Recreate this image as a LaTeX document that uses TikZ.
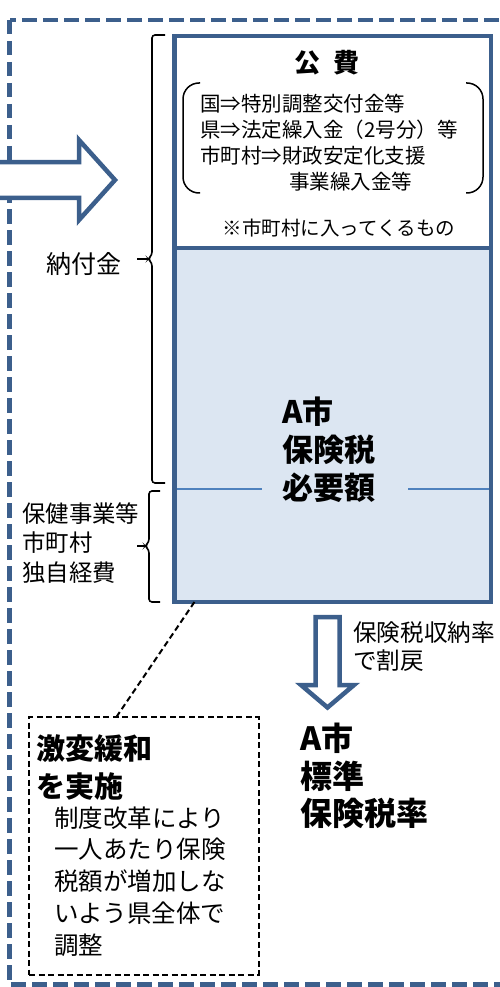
\documentclass[tikz,border=0pt]{standalone}
\usepackage{fontspec}
\setmainfont{Noto Sans CJK JP}
\usetikzlibrary{positioning}
\definecolor{wakuao}{HTML}{3C5F8C}
\definecolor{usuao}{HTML}{DCE6F2}
\definecolor{senao}{HTML}{4F81BD}

\begin{document}
\begin{tikzpicture}[x=1pt, y=-1pt,
  waku/.style={draw=wakuao, line width=4.5pt, dash pattern=on 14.5pt off 6.5pt},
  kyaku/.style={draw=wakuao, line width=4.5pt, minimum width=316.5pt, inner sep=0pt, outer sep=0pt, anchor=north west},
  yajirushi/.style={draw=wakuao, line width=4.5pt, fill=white, line join=miter},
  chukakko/.style={line width=1.6pt, rounded corners=3pt},
  marukakko/.style={line width=1.5pt, rounded corners=16pt},
  tensen/.style={line width=2pt, dash pattern=on 6pt off 3.5pt},
  bun/.style={inner sep=0pt, align=left}]

  \useasboundingbox (0,0) rectangle (499,987);

  % Outer frame
  \draw[waku] (9.5,20) rectangle (560,984.5);

  % Arrow from the left
  \draw[yajirushi] (-10,162.25) -- (79,162.25) -- (79,140) -- (115,180) -- (79,220)
    -- (79,197.75) -- (-10,197.75) -- cycle;

  % Main box
  \node[kyaku, minimum height=212pt] (kouhi) at (174.5,36) {};
  \node[kyaku, fill=usuao, minimum height=354pt] (hitsuyou) at (174.5,248) {};

  \coordinate (senA) at (176.75,489);
  \coordinate (senB) at (262,489);
  \coordinate (senC) at (408,489);
  \coordinate (senD) at (488.75,489);
  \draw[senao, line width=1.5pt] (senA) -- (senB);
  \draw[senao, line width=1.5pt] (senC) -- (senD);

  % Upper part (base = last line)
  \node[bun, anchor=base, font=\bfseries\fontsize{26}{30}\selectfont] (koutitle) at (327,72.5) {公\hspace{14pt}費};
  \draw[marukakko] (200,83) -- (183,83) -- (183,193) -- (200,193);
  \draw[marukakko] (466,83) -- (483,83) -- (483,193) -- (466,193);
  \node[bun, anchor=base west, font=\fontsize{20.5}{26}\selectfont] (uchiwake) at (200,189.5)
    {国⇒特別調整交付金等\\県⇒法定繰入金（2号分）等\\市町村⇒財政安定化支援\\\hspace*{89pt}事業繰入金等};
  \node[bun, anchor=base, font=\fontsize{19.5}{24}\selectfont] (chuui) at (339,235.5) {※市町村に入ってくるもの};

  % Lower part
  \node[bun, anchor=base west, font=\bfseries\fontsize{31}{37.7}\selectfont] (hitsuyoutxt) at (282,499.2)
    {A市\\保険税\\必要額};

  % Braces on the left
  \draw[chukakko] (165,35) -- (152,35) -- (152,255) -- (148,259) -- (152,263) -- (152,483) -- (165,483);
  \draw[chukakko] (137,259) -- (148,259);
  \node[bun, anchor=base, font=\fontsize{25}{30}\selectfont] (nofu) at (84,273) {納付金};

  \draw[chukakko] (160,491) -- (149,491) -- (149,542) -- (145,546) -- (149,550) -- (149,602) -- (160,602);
  \draw[chukakko] (137,546) -- (145,546);
  \node[bun, anchor=base west, font=\fontsize{23.4}{29.5}\selectfont] (hoken) at (22,581)
    {保健事業等\\市町村\\独自経費};

  % Arrow down
  \draw[yajirushi] (315.5,617) -- (339.5,617) -- (339.5,685) -- (354,685) -- (327.5,707.5)
    -- (301,685) -- (315.5,685) -- cycle;
  \node[bun, anchor=base west, font=\fontsize{23.6}{28}\selectfont] (warimodoshi) at (353,669)
    {保険税収納率\\で割戻};
  \node[bun, anchor=base west, font=\bfseries\fontsize{32}{37.5}\selectfont] (hyoujun) at (300,825.7)
    {A市\\標準\\保険税率};

  % Dashed box
  \node[draw, tensen, inner sep=0pt, outer sep=0pt, anchor=north west,
    minimum width=229.5pt, minimum height=257.5pt] (kanwa) at (29,717) {};
  \node[bun, anchor=base west, font=\bfseries\fontsize{29}{37.5}\selectfont] (kanwatitle) at (36,797)
    {激変緩和\\を実施};
  \node[bun, anchor=base west, font=\fontsize{24.5}{31.75}\selectfont] (kanwabun) at (54,954)
    {制度改革により\\一人あたり保険\\税額が増加しな\\いよう県全体で\\調整};
  \draw[tensen] (kanwa.102) -- (hitsuyou.232.7);

\end{tikzpicture}
\end{document}
